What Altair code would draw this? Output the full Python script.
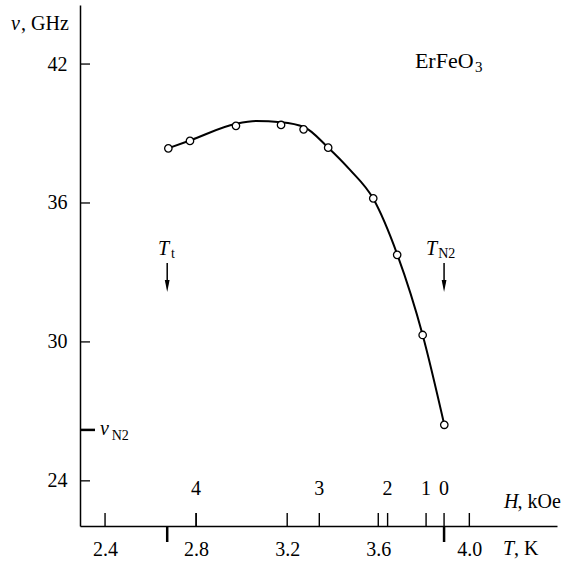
import altair as alt
import pandas as pd

# ---- data ----
# measured points (T in K, nu in GHz)
T_pts = [2.678, 2.773, 2.975, 3.173, 3.272, 3.380, 3.578, 3.683, 3.795, 3.890]
nu_pts = [38.36, 38.68, 39.33, 39.37, 39.18, 38.39, 36.20, 33.76, 30.30, 26.42]

# smooth drawn curve
T_curve = [2.676, 2.773, 2.975, 3.063, 3.173, 3.274, 3.379, 3.476, 3.577, 3.684, 3.795, 3.890]
nu_curve = [38.36, 38.70, 39.42, 39.54, 39.49, 39.28, 38.40, 37.43, 36.20, 33.76, 30.30, 26.42]

# axis ticks
T_ticks = [2.4, 2.8, 3.2, 3.6, 4.0]
nu_ticks = [24, 30, 36, 42]
H_labels = ["4", "3", "2", "1", "0"]
H_at_T = [2.8, 3.341, 3.641, 3.810, 3.889]

# special values
T_t = 2.673
T_N2 = 3.889
nu_N2 = 26.2

# ---- layout / style ----
X_DOMAIN = [2.29, 4.385]
Y_DOMAIN = [22.05, 44.55]
W, H = 477, 521
FONT = "Liberation Serif"
FS = 20
SUB = 14

xs = alt.Scale(domain=X_DOMAIN, nice=False, zero=False)
ys = alt.Scale(domain=Y_DOMAIN, nice=False, zero=False)

# annotation positions (data units)
ANN = [
    # text, T, nu, italic, size
    ("\u03bd", 1.987, 43.47, True, FS),
    (", GHz", 2.031, 43.47, False, FS),
    ("ErFeO", 3.761, 41.83, False, 22),
    ("3", 4.025, 41.66, False, 15),
    ("T", 2.633, 33.76, True, FS),
    ("t", 2.690, 33.63, False, SUB),
    ("T", 3.810, 33.76, True, FS),
    ("N2", 3.863, 33.63, False, SUB),
    ("\u03bd", 2.378, 25.98, True, FS),
    ("N2", 2.429, 25.77, False, SUB),
    ("H", 4.152, 22.83, True, FS),
    (", kOe", 4.212, 22.83, False, FS),
    ("T", 4.148, 20.80, True, FS),
    (", K", 4.196, 20.80, False, FS),
]
H_LABEL_NU = 23.39
ARROW_TOP, ARROW_BOT, ARROW_HEAD = 33.41, 32.50, 32.42

x_axis = alt.Axis(values=T_ticks, format=".1f", ticks=False, tickSize=0, labelPadding=13,
                  labelFont=FONT, labelFontSize=FS, labelColor="black",
                  domainColor="black", domainWidth=1.5, grid=False, title=None)
y_axis = alt.Axis(values=nu_ticks, ticks=False, tickSize=0, labelPadding=13,
                  labelFont=FONT, labelFontSize=FS, labelColor="black",
                  domainColor="black", domainWidth=1.5, grid=False, title=None)


def X():
    return alt.X("T:Q", scale=xs, axis=x_axis)


def Y():
    return alt.Y("nu:Q", scale=ys, axis=y_axis)


pts = pd.DataFrame({"T": T_pts, "nu": nu_pts})
curve = pd.DataFrame({"T": T_curve, "nu": nu_curve})

line = alt.Chart(curve).mark_line(color="black", strokeWidth=2, interpolate="monotone").encode(
    x=X(), y=Y(), order="T:Q")

points = alt.Chart(pts).mark_point(shape="circle", filled=True, fill="white", stroke="black",
                                   strokeWidth=1.3, size=55, opacity=1).encode(x=X(), y=Y())

# inward y ticks
y_ticks = alt.Chart(pd.DataFrame({"nu": nu_ticks})).mark_rule(color="black", strokeWidth=1.3).encode(
    y=Y(), x=alt.value(0), x2=alt.value(10))
nuN2_tick = alt.Chart(pd.DataFrame({"nu": [nu_N2]})).mark_rule(color="black", strokeWidth=2.5).encode(
    y=Y(), x=alt.value(0), x2=alt.value(15))

# inward x ticks (T and H scales)
x_ticks = alt.Chart(pd.DataFrame({"T": T_ticks + H_at_T})).mark_rule(color="black", strokeWidth=1.4).encode(
    x=X(), y=alt.value(H), y2=alt.value(H - 13))
long_ticks = alt.Chart(pd.DataFrame({"T": [T_t, T_N2]})).mark_rule(color="black", strokeWidth=2.5).encode(
    x=X(), y=alt.value(H), y2=alt.value(H + 16))

# H labels
h_lab = alt.Chart(pd.DataFrame({"T": H_at_T, "lab": H_labels, "nu": [H_LABEL_NU] * 5})).mark_text(
    font=FONT, fontSize=FS, color="black", align="center", baseline="alphabetic").encode(
    x=X(), y=Y(), text="lab:N")

# arrows
arr = pd.DataFrame({"T": [T_t, T_N2], "nu": [ARROW_TOP] * 2, "nu2": [ARROW_BOT] * 2})
arrow_shaft = alt.Chart(arr).mark_rule(color="black", strokeWidth=1.5).encode(
    x=X(), y=Y(), y2="nu2:Q")
arrow_head = alt.Chart(pd.DataFrame({"T": [T_t, T_N2], "nu": [ARROW_HEAD] * 2})).mark_point(
    shape="M-0.4,-1L0.4,-1L0,1Z", filled=True, color="black", size=144, opacity=1).encode(
    x=X(), y=Y())

texts = []
for txt, tx, ny, ital, size in ANN:
    texts.append(
        alt.Chart(pd.DataFrame({"T": [tx], "nu": [ny], "lab": [txt]})).mark_text(
            font=FONT, fontSize=size, fontStyle="italic" if ital else "normal", color="black",
            align="left", baseline="alphabetic").encode(
            x=X(), y=Y(), text="lab:N"))

chart = alt.layer(line, y_ticks, nuN2_tick, x_ticks, long_ticks, arrow_shaft, arrow_head,
                  h_lab, *texts, points).properties(
    width=W, height=H,
    autosize=alt.AutoSizeParams(type="none"),
    padding={"left": 80, "top": 5, "right": 10, "bottom": 39},
    background="white",
).configure_view(stroke=None).configure_axis(labelFont=FONT)

chart.save("out.html", embed_options={"renderer": "svg", "actions": False})
